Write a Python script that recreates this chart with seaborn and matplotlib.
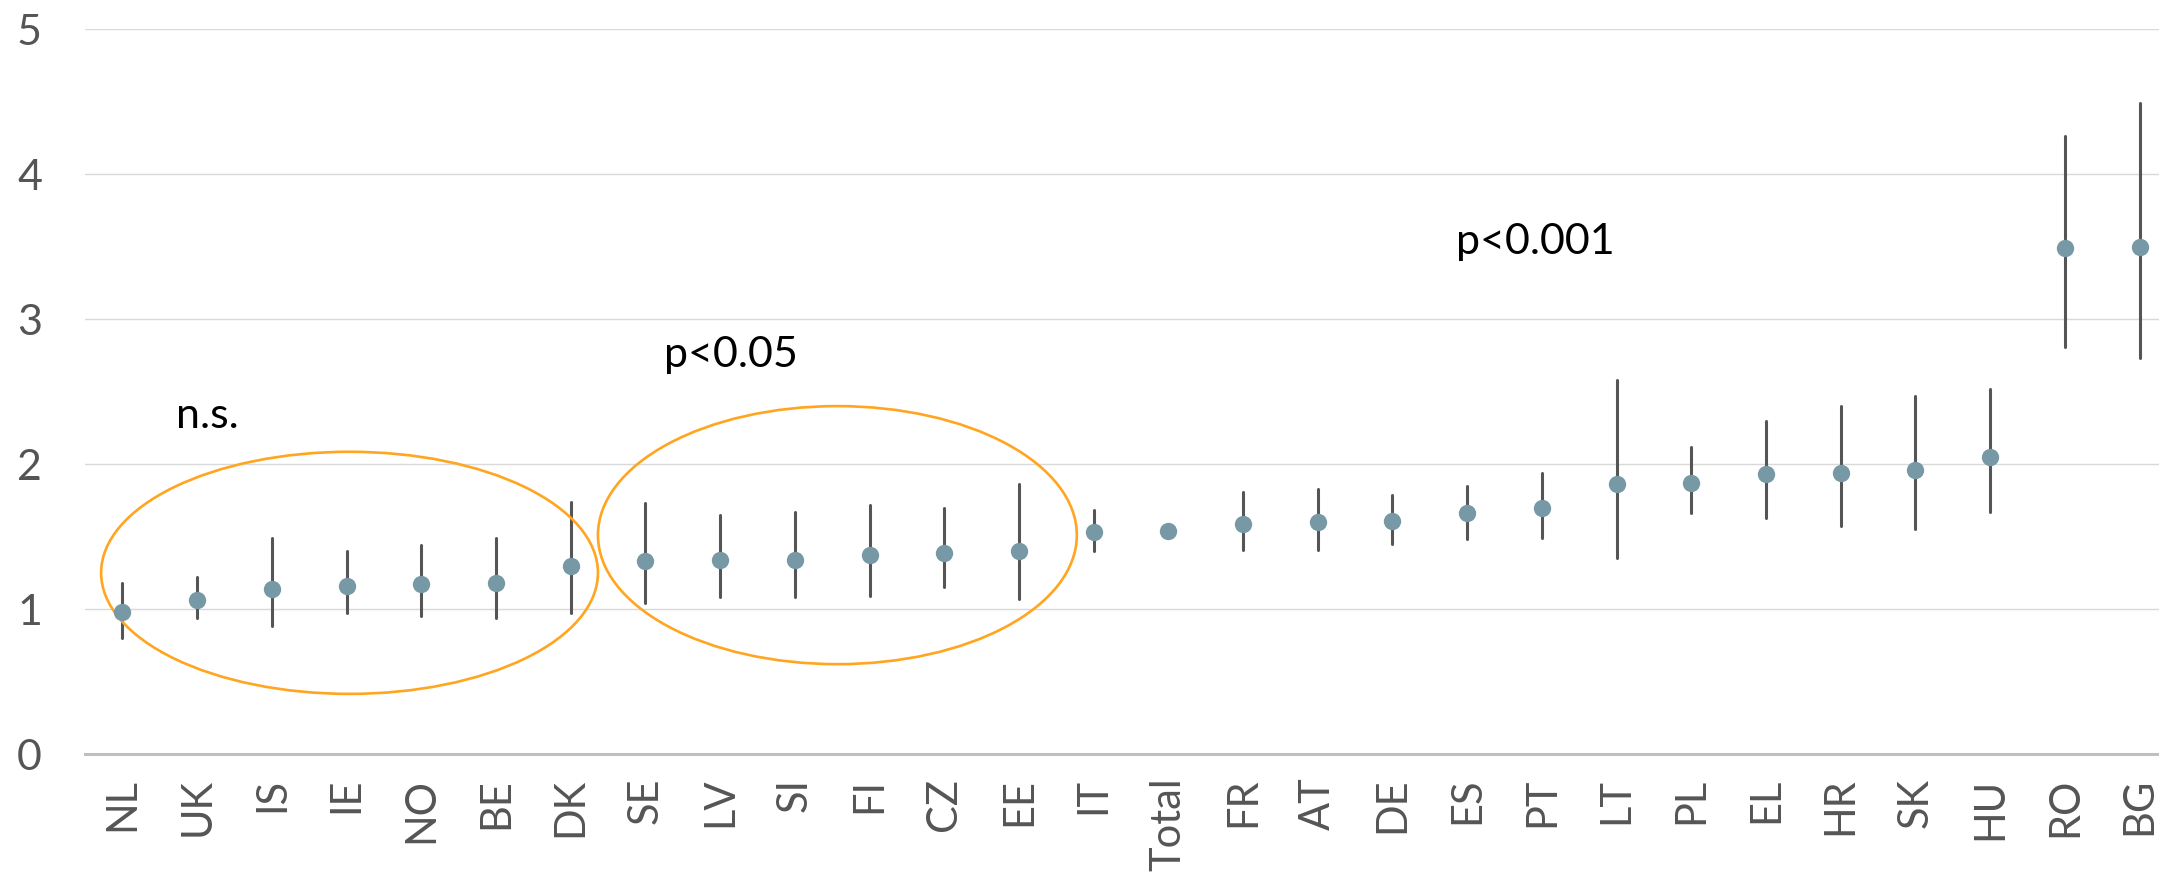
import matplotlib
matplotlib.use("Agg")
import matplotlib.pyplot as plt
from matplotlib.patches import Ellipse
import numpy as np
import pandas as pd
import seaborn as sns

# country codes in the order shown
countries = ["NL", "UK", "IS", "IE", "NO", "BE", "DK", "SE", "LV", "SI", "FI", "CZ", "EE", "IT",
             "Total", "FR", "AT", "DE", "ES", "PT", "LT", "PL", "EL", "HR", "SK", "HU", "RO", "BG"]
# point estimates and confidence limits
estimate = [0.98, 1.06, 1.14, 1.16, 1.17, 1.18, 1.30, 1.33, 1.34, 1.34, 1.37, 1.39, 1.40, 1.53,
            1.54, 1.59, 1.60, 1.61, 1.66, 1.70, 1.86, 1.87, 1.93, 1.94, 1.96, 2.05, 3.49, 3.50]
lower = [0.80, 0.94, 0.88, 0.97, 0.95, 0.94, 0.97, 1.04, 1.08, 1.08, 1.09, 1.15, 1.07, 1.40,
         1.54, 1.41, 1.41, 1.45, 1.48, 1.49, 1.35, 1.66, 1.63, 1.57, 1.55, 1.67, 2.81, 2.73]
upper = [1.18, 1.22, 1.49, 1.40, 1.44, 1.49, 1.74, 1.73, 1.65, 1.67, 1.72, 1.70, 1.86, 1.68,
         1.54, 1.81, 1.83, 1.79, 1.85, 1.94, 2.58, 2.12, 2.30, 2.40, 2.47, 2.52, 4.26, 4.49]

# long form table: low / estimate / high for each country
df = pd.DataFrame({
    "country": countries * 3,
    "value": lower + estimate + upper,
})

sns.set_theme(style="white")
plt.rcParams['font.family'] = ['Lato', 'DejaVu Sans']

fig = plt.figure(figsize=(21.59, 8.84), dpi=100)
ax = fig.add_axes([0.0394, 0.147, 0.9606, 0.82])

gray = "#555555"
dot = "#7799a5"
orange = "#ffa51f"

sns.pointplot(data=df, x="country", y="value", order=countries,
              estimator="median", errorbar=lambda v: (v.min(), v.max()),
              linestyle="none", marker="o", markersize=12.5, color=dot,
              err_kws={"color": gray, "linewidth": 2.2}, ax=ax)
# put dots above the error lines
for coll in ax.collections:
    coll.set_zorder(5)
for ln in ax.lines:
    if ln.get_marker() == "o":
        ln.set_zorder(5)
        ln.set_markeredgewidth(0)

ax.set_ylim(0, 5)
ax.set_xlim(-0.5, 27.26)
ax.set_yticks([0, 1, 2, 3, 4, 5])
ax.yaxis.grid(True, color="#d9d9d9", linewidth=1)
ax.set_axisbelow(True)
for s in ["top", "right", "left"]:
    ax.spines[s].set_visible(False)
ax.spines["bottom"].set_color("#bfbfbf")
ax.spines["bottom"].set_linewidth(2.2)
ax.set_xlabel("")
ax.set_ylabel("")
ax.tick_params(axis="y", length=0, pad=31, labelsize=31, labelcolor=gray)
ax.tick_params(axis="x", length=0, pad=17, labelsize=30, labelcolor=gray, rotation=90)

# groups circled in orange
ax.add_patch(Ellipse((3.04, 1.25), 6.65, 1.67, fill=False, edgecolor=orange, linewidth=1.9, zorder=3))
ax.add_patch(Ellipse((9.57, 1.51), 6.41, 1.78, fill=False, edgecolor=orange, linewidth=1.9, zorder=3))

ax.text(0.72, 2.25, "n.s.", fontsize=31, color="black", ha="left", va="baseline")
ax.text(7.25, 2.67, "p<0.05", fontsize=31, color="black", ha="left", va="baseline")
ax.text(17.85, 3.45, "p<0.001", fontsize=31, color="black", ha="left", va="baseline")

fig.savefig("out.png", dpi=100)
